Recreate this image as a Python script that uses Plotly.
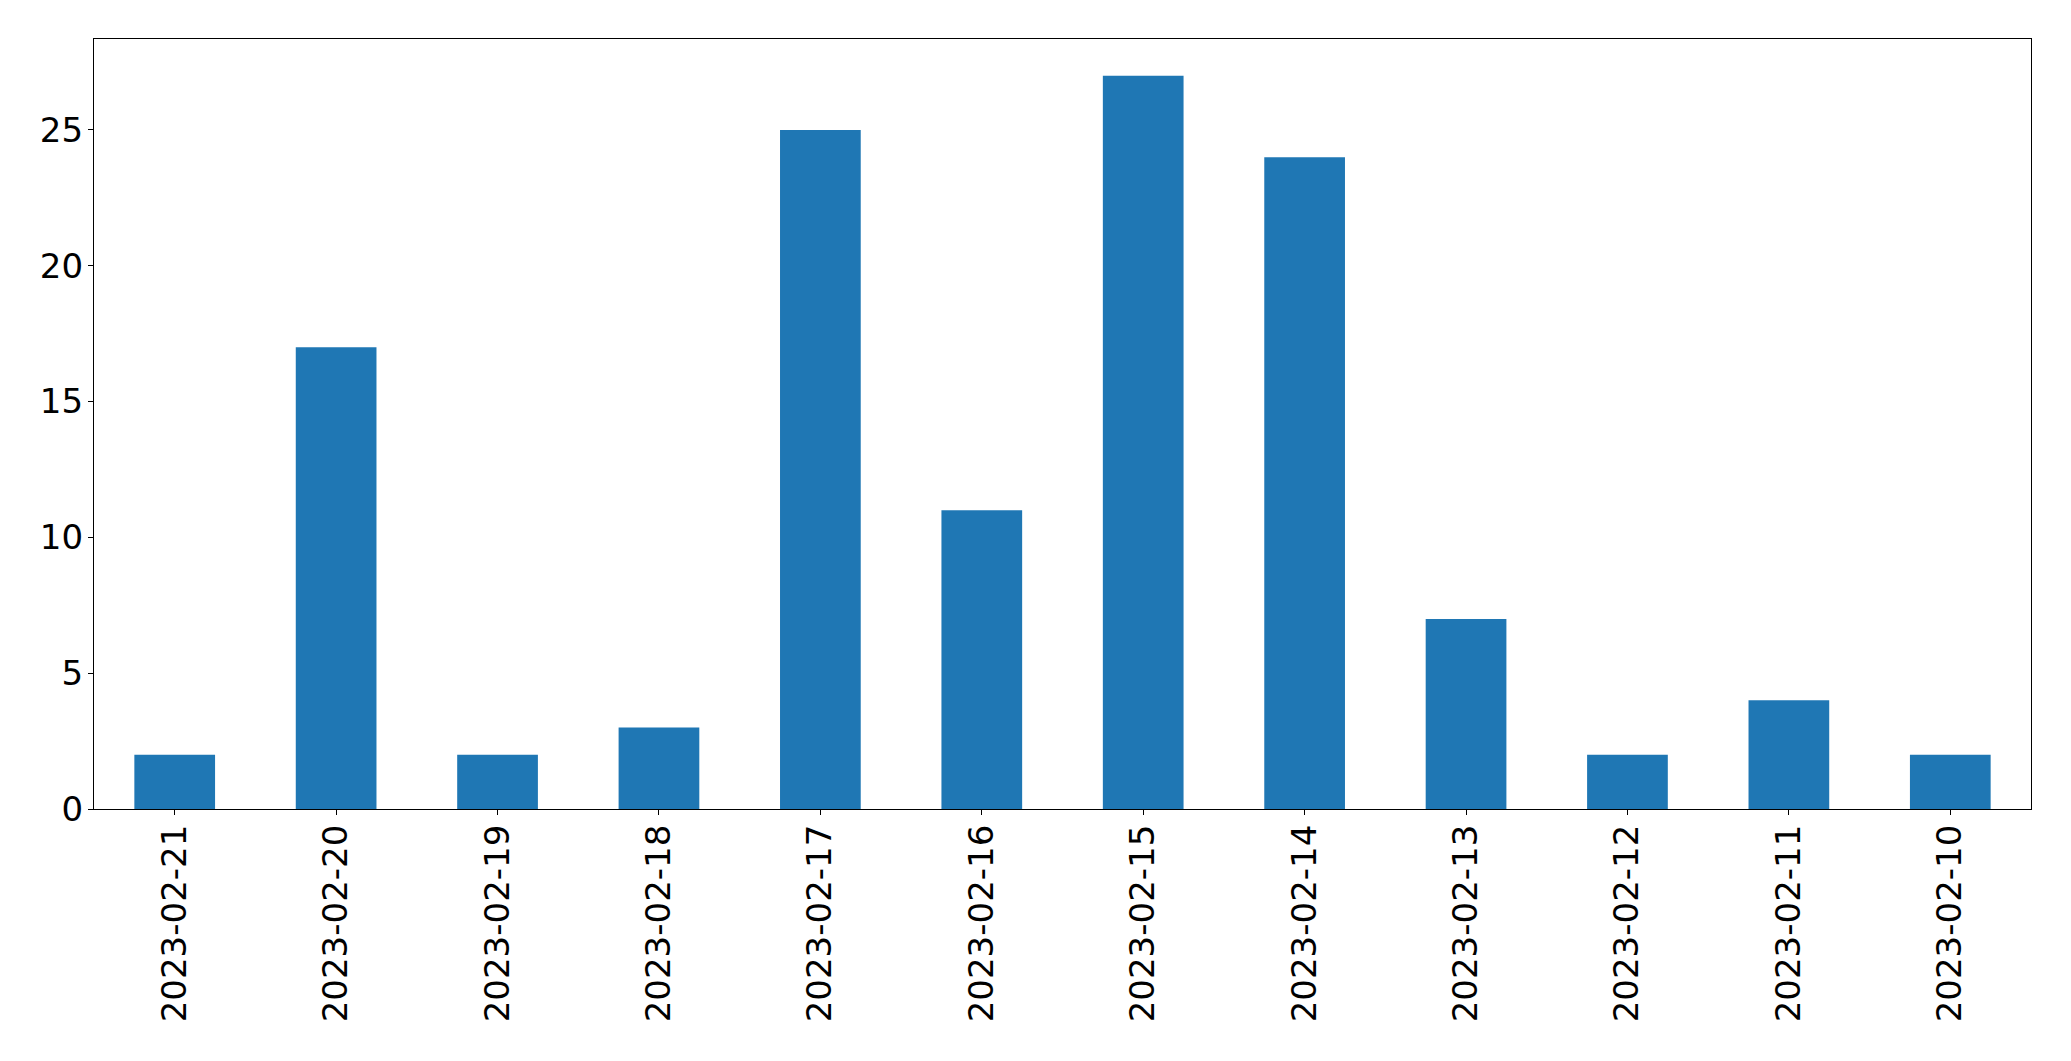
import plotly.graph_objects as go

dates = ["2023-02-21", "2023-02-20", "2023-02-19", "2023-02-18", "2023-02-17", "2023-02-16",
         "2023-02-15", "2023-02-14", "2023-02-13", "2023-02-12", "2023-02-11", "2023-02-10"]
counts = [2, 17, 2, 3, 25, 11, 27, 24, 7, 2, 4, 2]
y_ticks = [0, 5, 10, 15, 20, 25]

fig = go.Figure(go.Bar(x=dates, y=counts, width=0.5, marker=dict(color="#1f77b4", line=dict(width=0))))

font = dict(family="DejaVu Sans", size=34, color="black")
fig.update_layout(
    width=2063, height=1053,
    margin=dict(l=86, r=40, t=31, b=252, autoexpand=False),
    plot_bgcolor="white", paper_bgcolor="white",
    showlegend=False,
    font=font,
)
fig.update_xaxes(
    type="category", range=[-0.5, len(dates) - 0.5], automargin=False,
    showline=True, linecolor="black", linewidth=1.2, mirror=True,
    ticks="outside", ticklen=5, tickcolor="black", tickwidth=1.2,
    tickangle=-90, showgrid=False, tickfont=font, ticklabelstandoff=-4,
)
fig.update_yaxes(
    range=[0, max(counts) * 1.05], tickvals=y_ticks, automargin=False,
    showline=True, linecolor="black", linewidth=1.2, mirror=True,
    ticks="outside", ticklen=5, tickcolor="black", tickwidth=1.2,
    showgrid=False, zeroline=False, tickfont=font, ticklabelstandoff=-2,
)
fig.write_html("out.html")
